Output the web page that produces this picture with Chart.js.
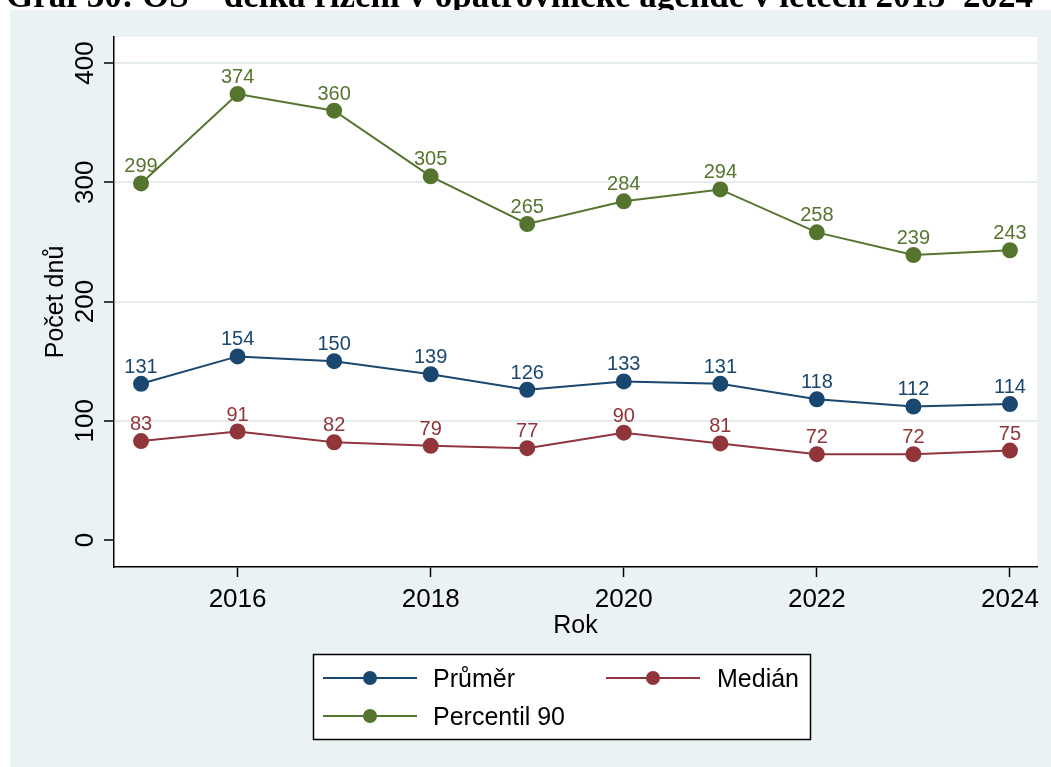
<!DOCTYPE html>
<html>
<head>
<meta charset="utf-8">
<script src="https://cdn.jsdelivr.net/npm/chart.js@4/dist/chart.umd.min.js"></script>
<style>
  html, body { margin: 0; padding: 0; background: #fff; }
  #wrap { position: relative; width: 1051px; height: 767px; overflow: hidden; }
</style>
</head>
<body>
<div id="wrap"><canvas id="chart_c" width="1051" height="767"></canvas></div>
<script>
const years = [2015, 2016, 2017, 2018, 2019, 2020, 2021, 2022, 2023, 2024]
const prumer = [131, 154, 150, 139, 126, 133, 131, 118, 112, 114]
const median = [83, 91, 82, 79, 77, 90, 81, 72, 72, 75]
const percentil90 = [299, 374, 360, 305, 265, 284, 294, 258, 239, 243]
const seriesNames = ['Průměr', 'Medián', 'Percentil 90']
const seriesColors = ['#1a476f', '#90353b', '#55752f']
const xTicks = [2016, 2018, 2020, 2022, 2024]
const yTicks = [0, 100, 200, 300, 400]
const titleText = 'Graf 30: OS – délka řízení v opatrovnické agendě v letech 2015–2024'
const xTitle = 'Rok'
const yTitle = 'Počet dnů'

const FONT = '"Liberation Sans", Arial, sans-serif'
const BG = '#eaf2f3'

const toPoints = (vals) => years.map((yr, i) => ({ x: yr, y: vals[i] }))

const makeSet = (idx, vals) => ({
  label: seriesNames[idx],
  data: toPoints(vals),
  borderColor: seriesColors[idx],
  backgroundColor: seriesColors[idx],
  pointBackgroundColor: seriesColors[idx],
  pointBorderColor: seriesColors[idx],
  pointRadius: 7,
  pointHoverRadius: 7,
  borderWidth: 2,
  tension: 0
})

// background, plot area, title
const backdrop = {
  id: 'backdrop',
  beforeDraw: (chart) => {
    const ctx = chart.ctx
    const a = chart.chartArea
    ctx.save()
    ctx.fillStyle = '#fff'
    ctx.fillRect(0, 0, chart.width, chart.height)
    // title (clipped at top like the reference)
    ctx.fillStyle = '#000'
    ctx.font = 'bold 35px "Liberation Serif", "Times New Roman", serif'
    ctx.textAlign = 'left'
    ctx.textBaseline = 'alphabetic'
    ctx.fillText(titleText, 6, 7)
    ctx.fillStyle = BG
    ctx.fillRect(10, 10, chart.width - 10, chart.height - 10)
    ctx.fillStyle = '#fff'
    ctx.fillRect(a.left, a.top, a.right - a.left, a.bottom - a.top)
    ctx.restore()
  }
}

// tick labels, axis titles, value labels, legend
const decorations = {
  id: 'decorations',
  afterDraw: (chart) => {
    const ctx = chart.ctx
    const xs = chart.scales.x
    const ys = chart.scales.y
    const a = chart.chartArea
    ctx.save()
    ctx.fillStyle = '#000'

    // x tick labels
    ctx.font = '26px ' + FONT
    ctx.textAlign = 'center'
    ctx.textBaseline = 'alphabetic'
    xTicks.forEach(v => ctx.fillText(String(v), xs.getPixelForValue(v), 607))

    // y tick labels (rotated)
    yTicks.forEach(v => {
      ctx.save()
      ctx.translate(93, ys.getPixelForValue(v))
      ctx.rotate(-Math.PI / 2)
      ctx.fillText(String(v), 0, 0)
      ctx.restore()
    })

    // axis titles
    ctx.font = '25px ' + FONT
    ctx.fillText(xTitle, (a.left + a.right) / 2, 633)
    ctx.save()
    ctx.translate(63, (a.top + a.bottom) / 2)
    ctx.rotate(-Math.PI / 2)
    ctx.fillText(yTitle, 0, 0)
    ctx.restore()

    // value labels
    ctx.font = '20px ' + FONT
    chart.data.datasets.forEach((ds, di) => {
      const meta = chart.getDatasetMeta(di)
      ctx.fillStyle = ds.borderColor
      meta.data.forEach((pt, i) => {
        ctx.fillText(String(ds.data[i].y), pt.x, pt.y - 11)
      })
    })

    // legend box
    ctx.fillStyle = '#fff'
    ctx.fillRect(313, 654, 498, 86)
    ctx.strokeStyle = '#000'
    ctx.lineWidth = 1.5
    ctx.strokeRect(313.5, 654.5, 497, 85)
    const items = [
      { x0: 323, x1: 417, tx: 433, y: 678 },
      { x0: 606, x1: 700, tx: 717, y: 678 },
      { x0: 323, x1: 417, tx: 433, y: 716 }
    ]
    ctx.font = '25px ' + FONT
    ctx.textAlign = 'left'
    ctx.textBaseline = 'middle'
    items.forEach((it, i) => {
      ctx.strokeStyle = seriesColors[i]
      ctx.lineWidth = 2
      ctx.beginPath()
      ctx.moveTo(it.x0, it.y)
      ctx.lineTo(it.x1, it.y)
      ctx.stroke()
      ctx.fillStyle = seriesColors[i]
      ctx.beginPath()
      ctx.arc((it.x0 + it.x1) / 2, it.y, 7, 0, Math.PI * 2)
      ctx.fill()
      ctx.fillStyle = '#000'
      ctx.fillText(seriesNames[i], it.tx, it.y + 2)
    })
    ctx.restore()
  }
}

new Chart(document.getElementById('chart_c'), {
  type: 'line',
  data: {
    datasets: [
      makeSet(0, prumer),
      makeSet(1, median),
      makeSet(2, percentil90)
    ]
  },
  options: {
    responsive: false,
    animation: false,
    events: [],
    layout: { padding: { top: 37, right: 14, left: 0, bottom: 0 } },
    plugins: {
      legend: { display: false },
      tooltip: { enabled: false }
    },
    scales: {
      x: {
        type: 'linear',
        min: 2014.72,
        max: 2024.28,
        afterBuildTicks: (s) => { s.ticks = xTicks.map(v => ({ value: v })) },
        afterFit: (s) => { s.height = 200 },
        ticks: { display: false },
        grid: {
          drawOnChartArea: false,
          drawTicks: true,
          tickLength: 10,
          tickColor: '#000',
          tickWidth: 1.5
        },
        border: { color: '#000', width: 1.5 }
      },
      y: {
        type: 'linear',
        min: -22.6,
        max: 421.8,
        afterBuildTicks: (s) => { s.ticks = yTicks.map(v => ({ value: v })) },
        afterFit: (s) => { s.width = 114 },
        ticks: { display: false },
        grid: {
          drawOnChartArea: true,
          color: (c) => (c.tick && c.tick.value === 0) ? 'rgba(0,0,0,0)' : '#e4ecee',
          lineWidth: 2,
          drawTicks: true,
          tickLength: 10,
          tickColor: '#000',
          tickWidth: 1.5
        },
        border: { color: '#000', width: 1.5 }
      }
    }
  },
  plugins: [backdrop, decorations]
})
</script>
</body>
</html>
